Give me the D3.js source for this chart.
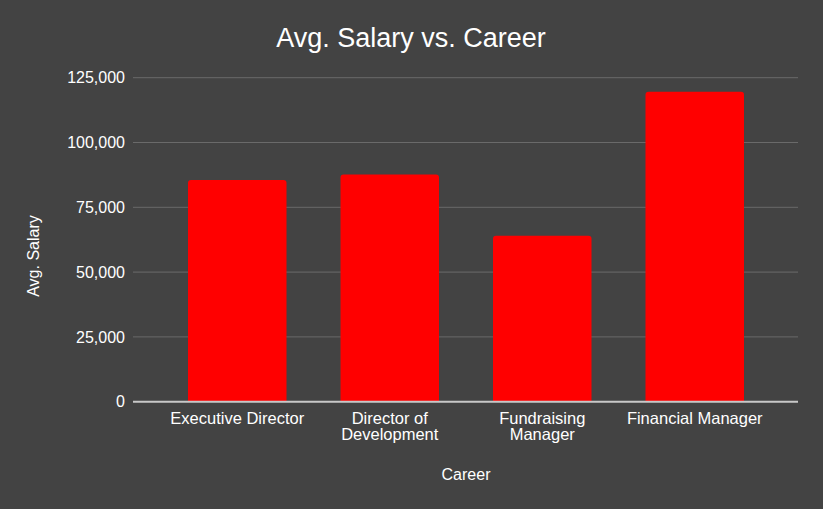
<!DOCTYPE html>
<meta charset="utf-8">
<style>
body { margin: 0; background: #434343; }
text { font-family: "Liberation Sans", Arial, sans-serif; fill: #fff; }
.grid line { stroke: #6a6a6a; stroke-width: 1px; }
</style>
<svg></svg>
<script src="https://cdn.jsdelivr.net/npm/d3@7"></script>
<script>

var careers = ["Executive Director", "Director of Development", "Fundraising Manager", "Financial Manager"];
var careerLines = [["Executive Director"], ["Director of", "Development"], ["Fundraising", "Manager"], ["Financial Manager"]];
var salaries = [85500, 87700, 64000, 119600];
var yTicks = [0, 25000, 50000, 75000, 100000, 125000];

var width = 823, height = 509;

var svg = d3.select("svg")
    .attr("width", width)
    .attr("height", height);

svg.append("rect")
    .attr("width", width)
    .attr("height", height)
    .attr("fill", "#434343");

var x = d3.scaleBand()
    .domain(careers)
    .range([161, 771])
    .paddingInner(0.354)
    .paddingOuter(0.177);

var y = d3.scaleLinear()
    .domain([0, 125000])
    .range([401.7, 77.7]);

// gridlines
var grid = svg.append("g").attr("class", "grid");
grid.selectAll("line")
    .data(yTicks.filter(function(d) { return d > 0; }))
  .enter().append("line")
    .attr("x1", 133)
    .attr("x2", 798)
    .attr("y1", function(d) { return y(d); })
    .attr("y2", function(d) { return y(d); });

// y tick labels
var fmt = d3.format(",");
svg.append("g").selectAll("text")
    .data(yTicks)
  .enter().append("text")
    .attr("x", 125)
    .attr("y", function(d) { return y(d); })
    .attr("dy", "0.35em")
    .attr("text-anchor", "end")
    .style("font-size", "16px")
    .text(function(d) { return fmt(d); });

// bars with rounded top corners
var r = 3;
svg.append("g").selectAll("path")
    .data(careers)
  .enter().append("path")
    .attr("fill", "#ff0000")
    .attr("d", function(d, i) {
      var x0 = x(d), x1 = x(d) + x.bandwidth(), top = y(salaries[i]), bot = y(0);
      return "M" + x0 + "," + bot +
             "V" + (top + r) +
             "Q" + x0 + "," + top + " " + (x0 + r) + "," + top +
             "H" + (x1 - r) +
             "Q" + x1 + "," + top + " " + x1 + "," + (top + r) +
             "V" + bot + "Z";
    });

// baseline
svg.append("line")
    .attr("x1", 133)
    .attr("x2", 798)
    .attr("y1", y(0))
    .attr("y2", y(0))
    .attr("stroke", "#c8c8c8")
    .attr("stroke-width", 2);

// x labels
var xl = svg.append("g").selectAll("text")
    .data(careers)
  .enter().append("text")
    .attr("text-anchor", "middle")
    .style("font-size", "16.5px");

xl.each(function(d, i) {
  var t = d3.select(this);
  careerLines[i].forEach(function(line, j) {
    t.append("tspan")
        .attr("x", x(d) + x.bandwidth() / 2)
        .attr("y", 423.5 + j * 16.7)
        .text(line);
  });
});

// title
svg.append("text")
    .attr("x", 411)
    .attr("y", 47)
    .attr("text-anchor", "middle")
    .style("font-size", "27px")
    .text("Avg. Salary vs. Career");

// axis titles
svg.append("text")
    .attr("x", 466)
    .attr("y", 480)
    .attr("text-anchor", "middle")
    .style("font-size", "16px")
    .text("Career");

svg.append("text")
    .attr("transform", "translate(38.5,256) rotate(-90)")
    .attr("text-anchor", "middle")
    .style("font-size", "16px")
    .text("Avg. Salary");

</script>
